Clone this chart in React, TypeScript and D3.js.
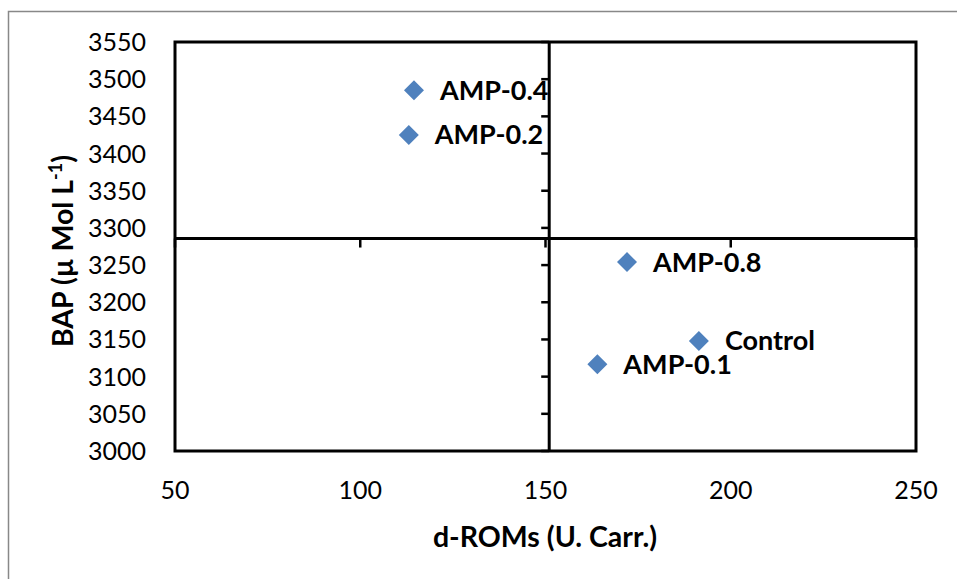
import React, { useEffect, useRef } from "react";
import * as d3 from "d3";

const groups = ["Control", "AMP-0.1", "AMP-0.2", "AMP-0.4", "AMP-0.8"];
const dRoms = [191.4, 164, 113.1, 114.5, 172];
const bap = [3148, 3116.6, 3425, 3485, 3254];
const xTicks = [50, 100, 150, 200, 250];
const yTicks = [3000, 3050, 3100, 3150, 3200, 3250, 3300, 3350, 3400, 3450, 3500, 3550];

const App = () => {
  const ref = useRef<SVGSVGElement | null>(null);

  useEffect(() => {
    if (!ref.current) return;
    const width = 957, height = 579;
    const left = 175, right = 916, top = 42, bottom = 451;
    const font = "Lato, 'Open Sans', sans-serif";

    const svg = d3.select(ref.current).attr("width", width).attr("height", height);
    svg.selectAll("*").remove();

    const x = d3.scaleLinear().domain([50, 250]).range([left, right]);
    const y = d3.scaleLinear().domain([3000, 3550]).range([bottom, top]);

    // the axes cross at the means of the data
    const crossX = d3.mean(dRoms) as number;
    const crossY = d3.mean(bap) as number;

    // outer chart border
    svg.append("rect")
      .attr("x", 8.5).attr("y", 11.5)
      .attr("width", 1000).attr("height", 1000)
      .attr("fill", "white").attr("stroke", "#888").attr("stroke-width", 1.5);

    // plot area frame
    svg.append("rect")
      .attr("x", left).attr("y", top)
      .attr("width", right - left).attr("height", bottom - top)
      .attr("fill", "none").attr("stroke", "black").attr("stroke-width", 3);

    // y tick marks on the vertical axis
    svg.selectAll(".ytick").data(yTicks).enter().append("line")
      .attr("x1", x(crossX) - 8).attr("x2", x(crossX))
      .attr("y1", d => y(d)).attr("y2", d => y(d))
      .attr("stroke", "black").attr("stroke-width", 2.5);

    // x tick marks on the horizontal axis
    svg.selectAll(".xtick").data(xTicks).enter().append("line")
      .attr("x1", d => x(d)).attr("x2", d => x(d))
      .attr("y1", y(crossY)).attr("y2", y(crossY) + 9)
      .attr("stroke", "black").attr("stroke-width", 2.5);

    // axis lines
    svg.append("line")
      .attr("x1", x(crossX)).attr("x2", x(crossX))
      .attr("y1", top).attr("y2", bottom)
      .attr("stroke", "black").attr("stroke-width", 3);
    svg.append("line")
      .attr("x1", left).attr("x2", right)
      .attr("y1", y(crossY)).attr("y2", y(crossY))
      .attr("stroke", "black").attr("stroke-width", 3);

    // tick labels (low position)
    svg.selectAll(".ylab").data(yTicks).enter().append("text")
      .attr("x", 146).attr("y", d => y(d))
      .attr("dy", "0.36em")
      .attr("text-anchor", "end")
      .attr("font-family", font).attr("font-size", 25)
      .text(d => d);

    svg.selectAll(".xlab").data(xTicks).enter().append("text")
      .attr("x", d => x(d)).attr("y", 499)
      .attr("text-anchor", "middle")
      .attr("font-family", font).attr("font-size", 25)
      .text(d => d);

    // axis titles
    svg.append("text")
      .attr("x", 545).attr("y", 547)
      .attr("text-anchor", "middle")
      .attr("font-family", font).attr("font-size", 28.5).attr("font-weight", "bold")
      .text("d-ROMs (U. Carr.)");

    const yt = svg.append("text")
      .attr("transform", "translate(73,251) rotate(-90)")
      .attr("text-anchor", "middle")
      .attr("font-family", font).attr("font-size", 28.5).attr("font-weight", "bold");
    yt.append("tspan").text("BAP (µ Mol L");
    yt.append("tspan").attr("font-size", 18).attr("dy", -11).text("-1");
    yt.append("tspan").attr("dy", 11).text(")");

    // points
    const pts = groups.map((g, i) => ({ g, x: dRoms[i], y: bap[i] }));
    const s = 10;
    svg.selectAll(".pt").data(pts).enter().append("path")
      .attr("d", d => {
        const cx = x(d.x), cy = y(d.y);
        return `M${cx},${cy - s}L${cx + s},${cy}L${cx},${cy + s}L${cx - s},${cy}Z`;
      })
      .attr("fill", "#4F81BD");

    svg.selectAll(".lbl").data(pts).enter().append("text")
      .attr("x", d => x(d.x) + 26).attr("y", d => y(d.y) + 9.5)
      .attr("font-family", font).attr("font-size", 27).attr("font-weight", "bold")
      .text(d => d.g);
  }, []);

  return <svg ref={ref} style={{ position: "absolute", left: 0, top: 0 }}></svg>;
};

export default App;
